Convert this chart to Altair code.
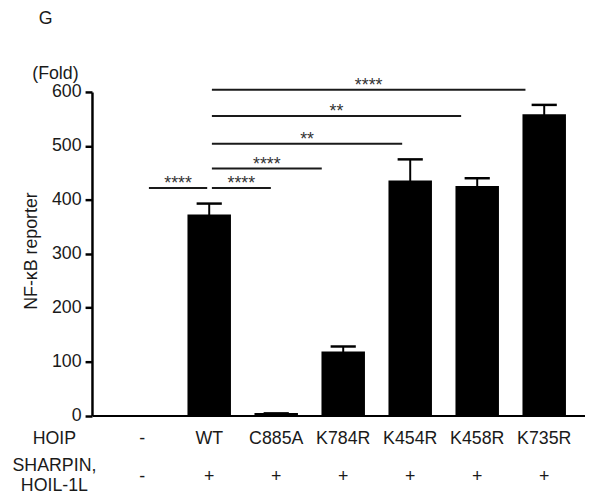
import altair as alt
import pandas as pd

# ---- data ----
groups = ["-", "WT", "C885A", "K784R", "K454R", "K458R", "K735R"]
means = [0, 371, 3, 117, 434, 424, 557]
errs = [0, 22, 1, 11, 41, 16, 19]
sharpin = ["-", "+", "+", "+", "+", "+", "+"]

# significance brackets (x in group-index units)
cmp_start = [0.10, 1.04, 1.04, 1.04, 1.04, 1.04]
cmp_end = [0.97, 1.92, 2.68, 3.88, 4.76, 5.72]
cmp_level = [422, 422, 458, 504, 555.5, 604]
cmp_label = ["****", "****", "****", "**", "**", "****"]

y_ticks = [0, 100, 200, 300, 400, 500, 600]

FONT = "Liberation Sans"
INK = "#1a1a1a"

df = pd.DataFrame({
    "idx": list(range(len(groups))),
    "group": groups,
    "mean": means,
    "err": errs,
    "sharpin": sharpin,
})
df["upper"] = df["mean"] + df["err"]

cmp = pd.DataFrame({
    "x1": cmp_start,
    "x2": cmp_end,
    "level": cmp_level,
    "label": cmp_label,
})
cmp["mid"] = (cmp["x1"] + cmp["x2"]) / 2

xscale = alt.Scale(domain=[-0.676, 6.535], nice=False, zero=False)
yscale = alt.Scale(domain=[0, 600], nice=False)

xaxis = alt.Axis(labels=False, ticks=False, grid=False, title=None,
                 domain=True, domainColor="black", domainWidth=2)
yaxis = alt.Axis(values=y_ticks, grid=False, title=None, domainColor="black",
                 domainWidth=2.5, tickColor="black", tickWidth=2.5, tickSize=7,
                 labelFontSize=18, labelColor=INK, labelPadding=4, labelFont=FONT)

base = alt.Chart(df)

bars = base.transform_filter("datum.mean > 0").mark_bar(
    size=42, color="black", stroke="black", strokeWidth=2
).encode(
    x=alt.X("idx:Q", scale=xscale, axis=xaxis),
    y=alt.Y("mean:Q", scale=yscale, axis=yaxis),
)

stems = base.transform_filter("datum.err > 0").mark_rule(color="black", strokeWidth=2).encode(
    x="idx:Q",
    y="mean:Q",
    y2="upper:Q",
)

caps = base.transform_filter("datum.err > 0").transform_calculate(
    c1="datum.idx - 0.188", c2="datum.idx + 0.188"
).mark_rule(color="black", strokeWidth=2.5).encode(
    x="c1:Q",
    x2="c2:Q",
    y="upper:Q",
)

br_lines = alt.Chart(cmp).mark_rule(color=INK, strokeWidth=2).encode(
    x="x1:Q",
    x2="x2:Q",
    y="level:Q",
)

br_text = alt.Chart(cmp).mark_text(font=FONT, fontSize=18, color="#333",
                                   baseline="alphabetic", dy=1).encode(
    x="mid:Q",
    y="level:Q",
    text="label:N",
)

hoip_labels = base.mark_text(font=FONT, fontSize=18, color=INK, baseline="middle").encode(
    x="idx:Q",
    y=alt.value(351),
    text="group:N",
)

sharpin_labels = base.mark_text(font=FONT, fontSize=18, color=INK, baseline="middle").encode(
    x="idx:Q",
    y=alt.value(390),
    text="sharpin:N",
)

one = pd.DataFrame({"a": [0]})


def label(txt, x, y, **kw):
    return alt.Chart(one).mark_text(text=txt, font=FONT, fontSize=18, color=INK,
                                    baseline="middle", align="center", **kw).encode(
        x=alt.value(x), y=alt.value(y))


row_hoip = label("HOIP", -38, 351)
row_sh1 = label("SHARPIN,", -38, 379)
row_sh2 = label("HOIL-1L", -38, 399)
panel = label("G", -47, -74)
fold = label("(Fold)", -37, -18)
ytitle = label("NF-\u03baB reporter", -61, 161, angle=270)

chart = alt.layer(
    bars, stems, caps, br_lines, br_text, hoip_labels, sharpin_labels,
    row_hoip, row_sh1, row_sh2, panel, fold, ytitle,
).properties(
    width=499,
    height=327.5,
    autosize=alt.AutoSizeParams(type="none"),
    padding={"left": 85, "top": 82, "right": 0, "bottom": 80},
).configure(font=FONT).configure_view(stroke=None)

chart.save("out.html", embed_options={"renderer": "svg", "actions": False})
